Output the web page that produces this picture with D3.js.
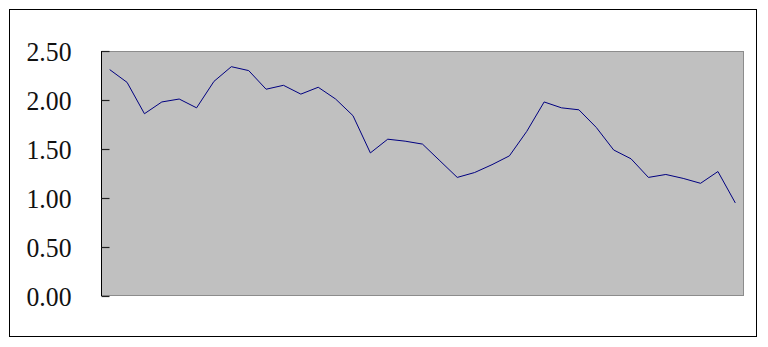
<!DOCTYPE html>
<html>
<head>
<meta charset="utf-8">
<script src="https://cdn.jsdelivr.net/npm/d3@7"></script>
<style>
  body { margin: 0; background: #fff; }
  svg { display: block; }
  .tick text { font-family: "Liberation Serif", "Times New Roman", serif; }
</style>
</head>
<body>
<script>
const width = 768;
const height = 347;

// one value per period
const categories = d3.range(1, 38);
const values = [
  2.31, 2.18, 1.86, 1.98, 2.01, 1.92, 2.19, 2.34, 2.30, 2.11,
  2.15, 2.06, 2.13, 2.01, 1.84, 1.46, 1.60, 1.58, 1.55, 1.38,
  1.21, 1.26, 1.34, 1.43, 1.68, 1.98, 1.92, 1.90, 1.72, 1.49,
  1.40, 1.21, 1.24, 1.20, 1.15, 1.27, 0.95
];
const yTicks = [0, 0.5, 1, 1.5, 2, 2.5];

const plot = {left: 101, right: 744, top: 51, bottom: 296};

const svg = d3.select('body').append('svg')
  .attr('width', width)
  .attr('height', height);

// outer frame
svg.append('rect')
  .attr('x', 9.5).attr('y', 9.5)
  .attr('width', 747).attr('height', 327)
  .attr('fill', '#fff')
  .attr('stroke', '#000');

const x = d3.scaleBand()
  .domain(categories)
  .range([plot.left, plot.right]);

const y = d3.scaleLinear()
  .domain([0, 2.5])
  .range([plot.bottom, plot.top]);

// plot area
svg.append('rect')
  .attr('x', plot.left + 0.5).attr('y', plot.top + 0.5)
  .attr('width', plot.right - plot.left - 1)
  .attr('height', plot.bottom - plot.top - 1)
  .attr('fill', '#c0c0c0')
  .attr('stroke', '#8c8c8c');

const line = d3.line()
  .x((d, i) => x(categories[i]) + x.bandwidth() / 2)
  .y(d => y(d));

svg.append('path')
  .datum(values)
  .attr('d', line)
  .attr('fill', 'none')
  .attr('stroke', '#000080')
  .attr('stroke-width', 1);

// y axis, ticks pointing into the plot
const yAxis = svg.append('g')
  .attr('transform', `translate(${plot.left + 0.5},0)`)
  .call(d3.axisRight(y).tickValues(yTicks).tickSize(8).tickFormat(d3.format('.2f')));

yAxis.select('.domain').attr('stroke', '#000').attr('d', `M0,${plot.top}V${plot.bottom}`);
yAxis.selectAll('.tick line').attr('stroke', '#222').attr('stroke-width', 1.2);
yAxis.selectAll('.tick text')
  .attr('x', -30)
  .attr('dy', '0.33em')
  .attr('text-anchor', 'end')
  .attr('font-size', 28)
  .attr('textLength', 45)
  .attr('lengthAdjust', 'spacingAndGlyphs')
  .attr('fill', '#111');
</script>
</body>
</html>
